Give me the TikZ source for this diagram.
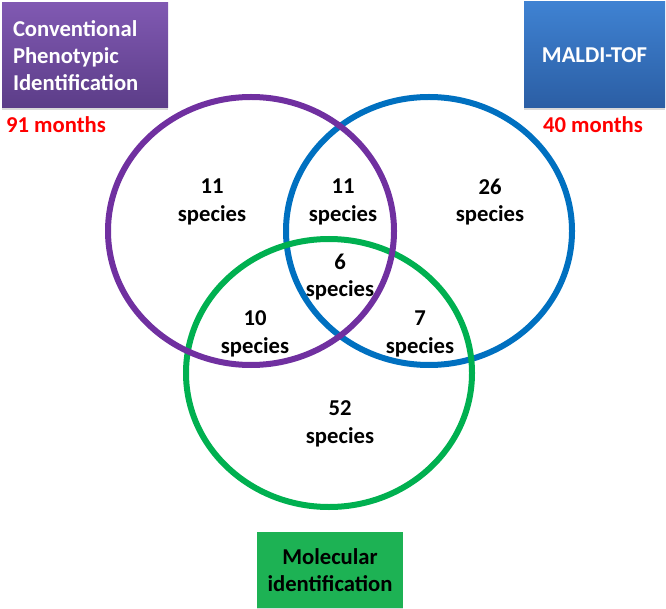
\documentclass[tikz,border=0pt]{standalone}
\usepackage{fontspec}
\setmainfont{Carlito}
\usetikzlibrary{shapes.geometric,shadows}

\definecolor{phenline}{HTML}{7030A0}
\definecolor{maldiline}{HTML}{0070C0}
\definecolor{molline}{HTML}{00B050}
\definecolor{phentop}{HTML}{8059B2}
\definecolor{phenbot}{HTML}{5C3D88}
\definecolor{malditop}{HTML}{3F82D2}
\definecolor{maldibot}{HTML}{2B5EA4}
\definecolor{molfill}{HTML}{1DB254}
\definecolor{monthred}{HTML}{FF0000}

\begin{document}
\begin{tikzpicture}[
    x=0.75pt, y=-0.75pt,
    venn/.style={ellipse, draw, line width=4.5pt, inner sep=0pt,
                 minimum width=214.5pt, minimum height=201pt},
    methbox/.style={rectangle, inner sep=0pt, align=center,
                    font=\fontsize{17}{20}\selectfont\bfseries,
                    drop shadow={shadow xshift=0pt, shadow yshift=-1.5pt, opacity=0.3}},
    count/.style={align=center, font=\fontsize{17}{20.5}\selectfont\bfseries},
    months/.style={text=monthred, font=\fontsize{17}{20}\selectfont\bfseries}
  ]
  \useasboundingbox (0,0) rectangle (666,609);

  %% -- the three sets --
  \node[venn, draw=maldiline] (maldi) at (429,231) {};
  \node[venn, draw=molline]   (mol)   at (329,373) {};
  \node[venn, draw=phenline]  (phen)  at (251,231) {};

  %% -- method boxes --
  \node[methbox, top color=phentop, bottom color=phenbot, text=white,
        minimum width=124.5pt, minimum height=78.75pt,
        text width=108pt, align=left] (phenbox) at (85,55.5)
    {Conventional\\Phenotypic\\Identification};
  \node[methbox, top color=malditop, bottom color=maldibot, text=white,
        minimum width=105.75pt, minimum height=79.5pt] (maldibox) at (594.5,55)
    {MALDI-TOF};
  \node[methbox, fill=molfill, text=black,
        minimum width=109.5pt, minimum height=57pt] (molbox) at (330,570)
    {Molecular\\identification};

  \node[months] (phentime)  at (56,125)  {91 months};
  \node[months] (malditime) at (593,125) {40 months};

  %% -- counts --
  \node[count] (onlyphen)  at (212,202) {11\\species};
  \node[count] (phenmaldi) at (343,202) {11\\species};
  \node[count] (onlymaldi) at (490,202) {26\\species};
  \node[count] (allthree)  at (340,277) {6\\species};
  \node[count] (phenmol)   at (255,334) {10\\species};
  \node[count] (maldimol)  at (420,334) {7\\species};
  \node[count] (onlymol)   at (340,424) {52\\species};

\end{tikzpicture}
\end{document}
